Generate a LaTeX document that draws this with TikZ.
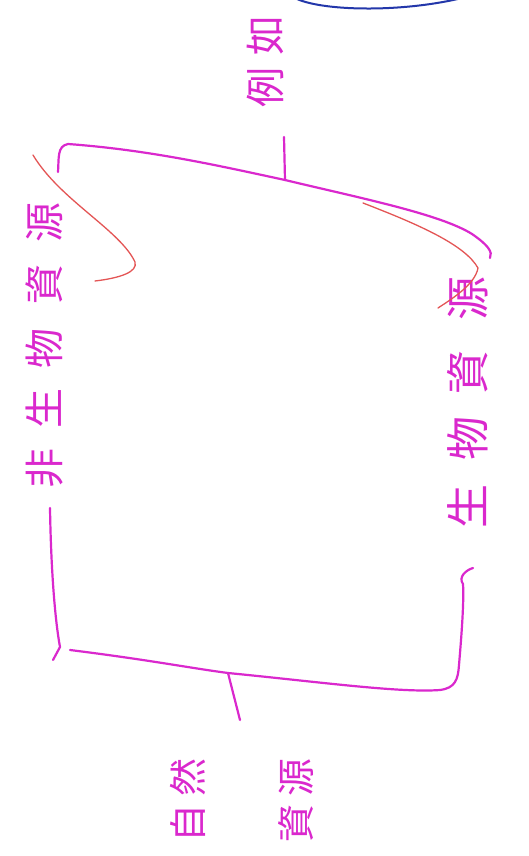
\documentclass[tikz,border=0pt]{standalone}
\usepackage{fontspec}
\newfontfamily\cjk{Noto Sans CJK TC}
\definecolor{mag}{RGB}{218,40,205}
\definecolor{redink}{RGB}{228,85,85}
\definecolor{blueink}{RGB}{35,55,170}
\tikzset{
  pen/.style={draw=mag, line width=2.2pt, line cap=round, line join=round},
  redpen/.style={draw=redink, line width=1.3pt, line cap=round},
  bluepen/.style={draw=blueink, line width=2pt, line cap=round},
  hand/.style={text=mag, rotate=90, inner sep=0pt, font=\cjk}
}
\begin{document}
\begin{tikzpicture}[x=1pt,y=-1pt]
\useasboundingbox[fill=white] (0,0) rectangle (529,856);

% blue arc at top edge
\draw[bluepen] (295,-2) .. controls (320,11) and (400,13) .. (462,-2);

% texts
\node[hand, font=\cjk\fontsize{40}{48}\selectfont] (eg) at (265,62) {例\hspace{12pt}如};
\node[hand, font=\cjk\fontsize{40}{48}\selectfont] (abio) at (44,345) {非\hspace{20pt}生\hspace{20pt}物\hspace{24pt}資\hspace{22pt}源};
\node[hand, font=\cjk\fontsize{44}{52}\selectfont] (bio) at (468,402) {生\hspace{24pt}物\hspace{22pt}資\hspace{30pt}源};
\node[hand, font=\cjk\fontsize{38}{46}\selectfont, align=center] (nat) at (242,800) {自\hspace{8pt}然\\[62pt]資\hspace{8pt}源};

% coordinates
\coordinate (ttop) at (284,137);
\coordinate (tjoin) at (285,180);
\coordinate (bjoin) at (228,673);
\coordinate (bend) at (240,720);

% top bracket
\draw[pen] (58,172) .. controls (59,158) and (57,146) .. (68,144)
  .. controls (150,150) and (220,166) .. (tjoin)
  .. controls (360,198) and (440,214) .. (472,234)
  .. controls (488,245) and (493,252) .. (490,258);
\draw[pen] (ttop) -- (tjoin);

% bottom bracket
\draw[pen] (50,508) .. controls (51,570) and (55,620) .. (60,647) -- (53,660);
\draw[pen] (70,650) .. controls (150,660) and (190,668) .. (bjoin)
  .. controls (320,682) and (400,693) .. (440,690)
  .. controls (455,688) and (458,680) .. (459,665)
  .. controls (462,630) and (464,600) .. (463,584)
  .. controls (458,577) and (466,570) .. (473,568);
\draw[pen] (bjoin) -- (bend);

% red strokes over the texts
\draw[redpen] (33,155) .. controls (60,200) and (120,230) .. (135,262)
  .. controls (138,272) and (120,278) .. (95,281);
\draw[redpen] (363,203) .. controls (420,225) and (465,245) .. (478,268)
  .. controls (475,285) and (450,300) .. (438,308);
\end{tikzpicture}
\end{document}
